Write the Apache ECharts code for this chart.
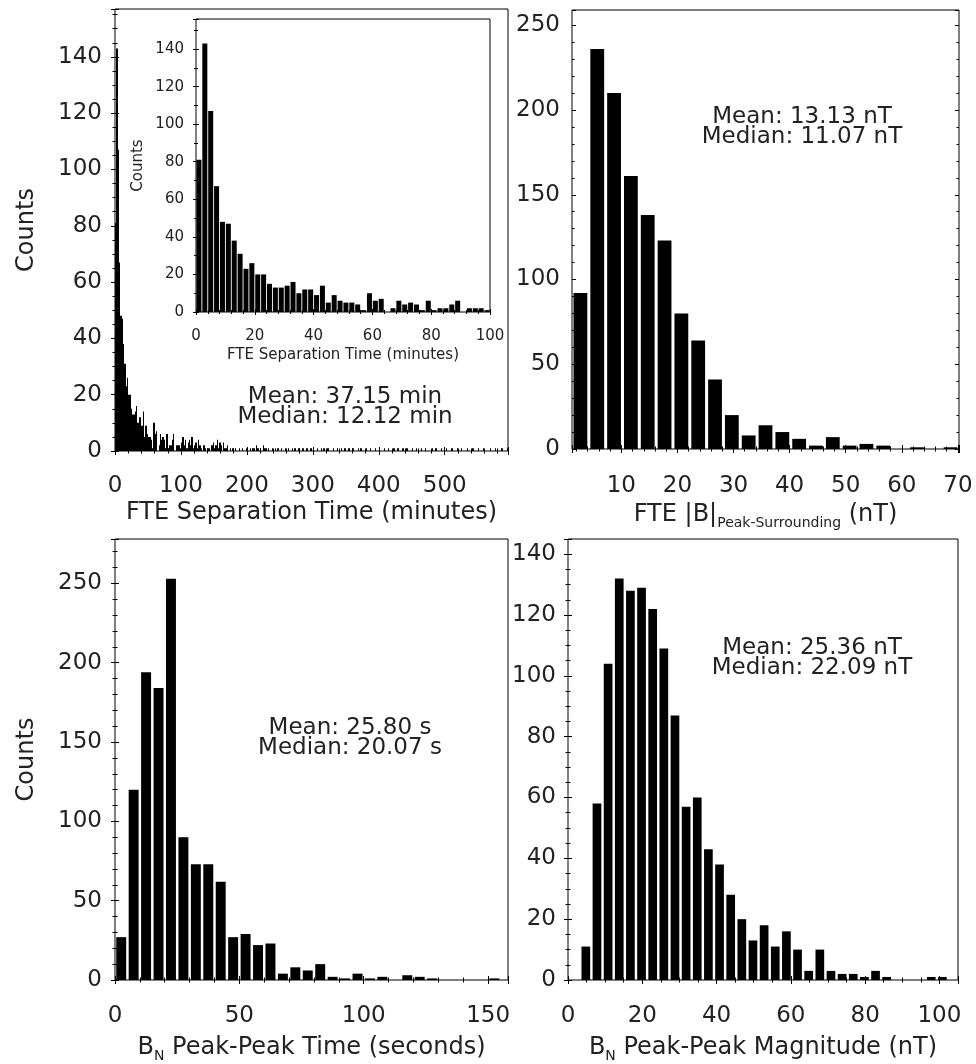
<!DOCTYPE html>
<html><head><meta charset="utf-8">
<script src="https://cdn.jsdelivr.net/npm/echarts@6/dist/echarts.min.js"></script>
<style>html,body{margin:0;padding:0;background:#fff}#c{width:976px;height:1064px}</style>
</head><body><div id="c"></div>
<script>
// ---------- DATA ----------
// FTE separation time, 2-minute bins from 0 to 100 min (inset + start of main panel)
const sepInsetCounts = [81,143,107,67,48,47,38,31,23,26,20,20,15,13,13,14,16,10,12,12,9,14,5,9,6,5,5,4,1,10,6,7,0,2,6,4,5,4,1,6,1,2,2,4,6,0,2,2,2,1];
// FTE separation time, 2-minute bins from 100 to 596 min (tail of main panel)
const sepTailCounts = [
  3,5,2,4,1,3,4,2,5,1,2,3,1,4,2,
  1,0,2,1,0,1,1,0,2,
  3,1,2,4,1,3,2,0,3,1,1,2,0,1,0,1,
  0,1,0,0,1,0,1,0,0,1,0,0,1,0,1,
  1,0,2,1,0,1,0,2,1,1,0,1,0,0,1,0,1,0,1,0,
  0,1,0,0,1,0,1,0,0,1,0,1,0,0,1,0,0,1,0,0,1,0,0,1,0,
  1,0,0,1,0,0,1,0,1,0,0,1,0,0,0,1,0,0,1,0,0,1,0,0,1,
  0,0,1,0,0,1,0,0,0,1,0,1,0,0,0,1,0,0,1,0,0,0,1,0,0,
  1,0,0,0,1,0,0,1,0,0,0,1,0,0,1,0,0,0,1,0,0,1,0,0,0,
  1,0,0,1,0,0,0,1,0,0,1,0,0,0,0,1,0,0,1,0,0,0,1,0,0,
  0,1,0,0,0,1,0,0,0,1,0,0,1,0,0,0,0,1,0,0,0,1,0,0,0,
  1,0,0,0,1,0,0,0,0,1,0,0,0,1,0,0,0,0,1,0,0,0,1
];
const sepBinStart = 0, sepBinWidth = 2;
// |B| peak-surrounding, 3 nT bins
const bPeakCounts = [92,236,210,161,138,123,80,64,41,20,8,14,10,6,2,7,2,3,2,0,1,0,1];
const bPeakBinStart = 1.2, bPeakBinWidth = 3;
// BN peak-peak time, 5 s bins
const bnTimeCounts = [27,120,194,184,253,90,73,73,62,27,29,22,23,4,8,6,10,2,1,4,1,2,0,3,2,1,0,0,0,0,1,0];
const bnTimeBinStart = 0, bnTimeBinWidth = 5;
// BN peak-peak magnitude, 3 nT bins
const bnMagCounts = [11,58,104,132,128,129,122,109,87,57,60,43,38,28,20,13,18,11,16,10,3,10,3,2,2,1,3,1,0,0,0,1,1];
const bnMagBinStart = 3.3, bnMagBinWidth = 3;

// tick labels
const sepXTicks = [0,100,200,300,400,500];
const sepYTicks = [0,20,40,60,80,100,120,140];
const insetXTicks = [0,20,40,60,80,100];
const insetYTicks = [0,20,40,60,80,100,120,140];
const bPeakXTicks = [10,20,30,40,50,60,70];
const bPeakYTicks = [0,50,100,150,200,250];
const bnTimeXTicks = [0,50,100,150];
const bnTimeYTicks = [0,50,100,150,200,250];
const bnMagXTicks = [0,20,40,60,80,100];
const bnMagYTicks = [0,20,40,60,80,100,120,140];

// texts
const countsLabel = 'Counts';
const sepTitle = 'FTE Separation Time (minutes)';
const bPeakTitle = 'FTE |B|{sub|Peak-Surrounding} (nT)';
const bnTimeTitle = 'B{sub|N} Peak-Peak Time (seconds)';
const bnMagTitle = 'B{sub|N} Peak-Peak Magnitude (nT)';
const sepStats = ['Mean: 37.15 min', 'Median: 12.12 min'];
const bPeakStats = ['Mean: 13.13 nT', 'Median: 11.07 nT'];
const bnTimeStats = ['Mean: 25.80 s', 'Median: 20.07 s'];
const bnMagStats = ['Mean: 25.36 nT', 'Median: 22.09 nT'];

// ---------- CHART ----------
const FONT = 'DejaVu Sans';
const TXT = '#222';

function histData(counts, start, width) {
  return counts.map((c, i) => [start + i * width, start + (i + 1) * width, c]);
}
function barRender(fill, snap) {
  return function (params, api) {
    const x0 = api.value(0), x1 = api.value(1), v = api.value(2);
    if (!v) return null;
    const pad = (x1 - x0) * (1 - fill) / 2;
    const p0 = api.coord([x0 + pad, v]);
    const p1 = api.coord([x1 - pad, 0]);
    let left = p0[0], right = p1[0];
    if (snap) { left = Math.round(left); right = Math.max(Math.round(right), left + 1); }
    const cs = params.coordSys;
    const rect = echarts.graphic.clipRectByRect(
      { x: left, y: p0[1], width: right - left, height: p1[1] - p0[1] },
      { x: cs.x, y: cs.y, width: cs.width, height: cs.height });
    return rect && { type: 'rect', shape: rect, style: { fill: '#000' } };
  };
}
function fmt(ticks) {
  return v => ticks.some(t => Math.abs(t - v) < 1e-6) ? String(Math.round(v)) : '';
}

const grids = [
  { left: 115, top: 9, width: 393, height: 442 },   // 0 TL main
  { left: 196, top: 19, width: 294, height: 293 },  // 1 inset
  { left: 572, top: 10, width: 387, height: 439 },  // 2 TR
  { left: 115, top: 539, width: 393, height: 442 }, // 3 BL
  { left: 568, top: 539, width: 390, height: 442 }  // 4 BR
].map(g => Object.assign({ show: true, borderColor: '#000', borderWidth: 1, backgroundColor: '#fff', containLabel: false }, g));

const xAxes = [], yAxes = [];
function addAxes(gi, o) {
  const tick = { show: true, inside: true, length: o.tickLen || 4, lineStyle: { color: '#000', width: 1 } };
  const minor = (n) => ({ show: true, splitNumber: n, length: o.minorLen || 2.5, lineStyle: { color: '#000', width: 1 } });
  const xBase = { type: 'value', gridIndex: gi, min: o.xmin, max: o.xmax, splitLine: { show: false }, axisLine: { show: false } };
  if (o.xint) xBase.interval = o.xint; else xBase.splitNumber = o.xsplit;
  const yBase = { type: 'value', gridIndex: gi, min: o.ymin, max: o.ymax, interval: o.yint, splitLine: { show: false }, axisLine: { show: false } };
  xAxes.push(Object.assign({}, xBase, {
    position: 'bottom', axisTick: tick, minorTick: minor(o.xminor),
    axisLabel: { show: true, formatter: fmt(o.xticks), fontFamily: FONT, fontSize: o.fs, color: TXT, margin: o.xlabMargin, hideOverlap: false, showMinLabel: true, showMaxLabel: true },
    name: o.xname, nameLocation: 'middle', nameGap: o.xnameGap,
    nameTextStyle: { fontFamily: FONT, fontSize: o.nfs, color: TXT, rich: { sub: { fontFamily: FONT, fontSize: o.subfs || 13, color: TXT, padding: [o.subDrop || 14, 0, 0, 0] } } }
  }));
  xAxes.push(Object.assign({}, xBase, {
    position: 'top', axisTick: tick, minorTick: minor(o.xminor), axisLabel: { show: false }
  }));
  yAxes.push(Object.assign({}, yBase, {
    position: 'left', axisTick: tick, minorTick: minor(o.yminor),
    axisLabel: { show: true, formatter: fmt(o.yticks), fontFamily: FONT, fontSize: o.fs, color: TXT, margin: o.ylabMargin, showMinLabel: true, showMaxLabel: true },
    name: o.yname || '', nameLocation: 'middle', nameGap: o.ynameGap || 0,
    nameTextStyle: { fontFamily: FONT, fontSize: o.nfs, color: TXT }
  }));
  yAxes.push(Object.assign({}, yBase, {
    position: 'right', axisTick: tick, minorTick: minor(o.yminor), axisLabel: { show: false }
  }));
}

// TL main
addAxes(0, { xmin: 0, xmax: 596, xint: 100, xminor: 5, xticks: sepXTicks,
  ymin: 0, ymax: 157, yint: 20, yminor: 4, yticks: sepYTicks,
  fs: 23, nfs: 24, xlabMargin: 24, ylabMargin: 13, xname: sepTitle, xnameGap: 50,
  yname: countsLabel, ynameGap: 76 });
// inset
addAxes(1, { xmin: 0, xmax: 100, xint: 20, xminor: 5, xticks: insetXTicks,
  ymin: 0, ymax: 156, yint: 20, yminor: 2, yticks: insetYTicks,
  fs: 15, nfs: 15, xlabMargin: 17, ylabMargin: 12, xname: sepTitle, xnameGap: 36,
  yname: countsLabel, ynameGap: 50, tickLen: 3, minorLen: 2 });
// TR
addAxes(2, { xmin: 1.2, xmax: 70.2, xsplit: 7, xminor: 5, xticks: bPeakXTicks,
  ymin: 0, ymax: 259, yint: 50, yminor: 5, yticks: bPeakYTicks,
  fs: 23, nfs: 24, xlabMargin: 26, ylabMargin: 12, xname: bPeakTitle, xnameGap: 51, subfs: 14, subDrop: 16 });
// BL
addAxes(3, { xmin: 0, xmax: 158, xint: 50, xminor: 5, xticks: bnTimeXTicks,
  ymin: 0, ymax: 278, yint: 50, yminor: 5, yticks: bnTimeYTicks,
  fs: 23, nfs: 24, xlabMargin: 25, ylabMargin: 13, xname: bnTimeTitle, xnameGap: 53,
  yname: countsLabel, ynameGap: 76, subfs: 14, subDrop: 16 });
// BR
addAxes(4, { xmin: 0, xmax: 105, xint: 20, xminor: 4, xticks: bnMagXTicks,
  ymin: 0, ymax: 145, yint: 20, yminor: 4, yticks: bnMagYTicks,
  fs: 23, nfs: 24, xlabMargin: 25, ylabMargin: 12, xname: bnMagTitle, xnameGap: 53, subfs: 14, subDrop: 16 });

function histSeries(gi, counts, start, width, fill, snap) {
  return {
    type: 'custom', xAxisIndex: gi * 2, yAxisIndex: gi * 2, coordinateSystem: 'cartesian2d',
    data: histData(counts, start, width), encode: { x: [0, 1], y: 2 },
    renderItem: barRender(fill, snap), silent: true, animation: false, z: gi === 1 ? 5 : 2
  };
}

const series = [
  histSeries(0, sepInsetCounts.concat(sepTailCounts), sepBinStart, sepBinWidth, 1.0, true),
  histSeries(1, sepInsetCounts, sepBinStart, sepBinWidth, 0.85, false),
  histSeries(2, bPeakCounts, bPeakBinStart, bPeakBinWidth, 0.82, false),
  histSeries(3, bnTimeCounts, bnTimeBinStart, bnTimeBinWidth, 0.8, false),
  histSeries(4, bnMagCounts, bnMagBinStart, bnMagBinWidth, 0.78, false)
];

function statsText(lines, x, y) {
  return { type: 'text', x: x, y: y, z: 100,
    style: { text: lines.join('\n'), font: '23px "' + FONT + '"', fill: TXT, align: 'center', verticalAlign: 'middle', lineHeight: 20 } };
}

const chart = echarts.init(document.getElementById('c'), null, { renderer: 'canvas', width: 976, height: 1064 });
chart.setOption({
  animation: false,
  backgroundColor: '#fff',
  grid: grids,
  xAxis: xAxes,
  yAxis: yAxes,
  series: series,
  graphic: [
    statsText(sepStats, 345, 407),
    statsText(bPeakStats, 802, 127),
    statsText(bnTimeStats, 350, 738),
    statsText(bnMagStats, 812, 658)
  ]
});
</script></body></html>
